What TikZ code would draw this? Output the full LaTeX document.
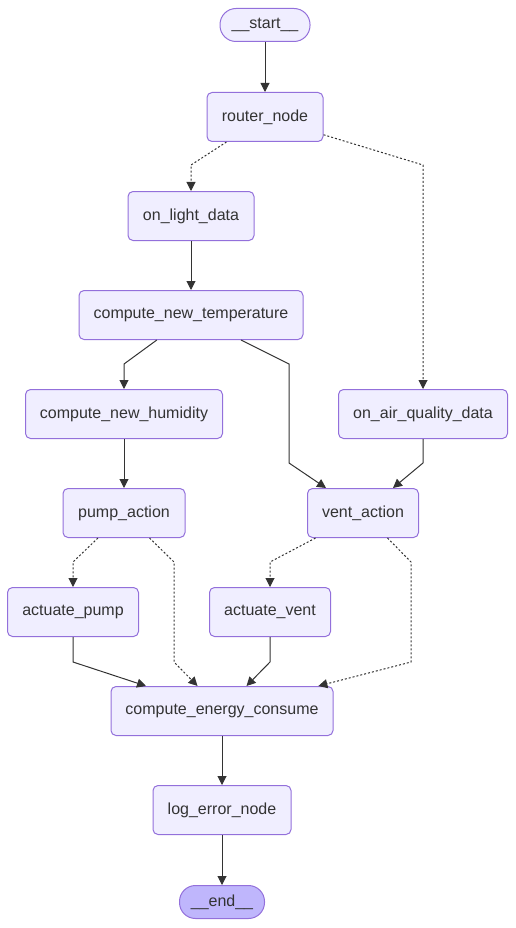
\documentclass[tikz,border=0pt]{standalone}
\usepackage{fontspec}
\setmainfont{Liberation Sans}
\usetikzlibrary{arrows.meta, positioning}

\definecolor{nodefill}{HTML}{F0EEFF}
\definecolor{nodeline}{HTML}{9370DB}
\definecolor{endfill}{HTML}{BFB6FC}
\definecolor{edgeline}{HTML}{333333}

\begin{document}
\begin{tikzpicture}[
        x=1pt, y=-1pt,
        box/.style={rectangle, draw=nodeline, fill=nodefill, line width=1pt, rounded corners=5pt, minimum height=49pt, inner sep=0pt, align=center, text=edgeline, font=\fontsize{16}{19}\selectfont},
        term/.style={box, rounded corners=16pt, minimum height=33pt},
        arrow/.style={-{Triangle[length=9pt, width=9pt]}, line width=1pt, edgeline},
        darrow/.style={arrow, dash pattern=on 2pt off 2pt}
    ]
        \useasboundingbox (0,0) rectangle (516,928);

        % Nodes
        \node[term, minimum width=90pt] (start) at (265,25) {\_\_start\_\_};
        \node[box, minimum width=116pt] (router) at (265,117) {router\_node};
        \node[box, minimum width=126pt] (light) at (191,216) {on\_light\_data};
        \node[box, minimum width=224pt] (temp) at (191,315) {compute\_new\_temperature};
        \node[box, minimum width=197pt] (humid) at (124,414) {compute\_new\_humidity};
        \node[box, minimum width=169pt] (air) at (423,414) {on\_air\_quality\_data};
        \node[box, minimum width=122pt] (pump) at (124,513) {pump\_action};
        \node[box, minimum width=111pt] (vent) at (363,513) {vent\_action};
        \node[box, minimum width=131pt] (actpump) at (73,612) {actuate\_pump};
        \node[box, minimum width=121pt] (actvent) at (270,612) {actuate\_vent};
        \node[box, minimum width=222pt] (energy) at (222,711) {compute\_energy\_consume};
        \node[box, minimum width=138pt] (logerr) at (222,810) {log\_error\_node};
        \node[term, minimum width=85pt, fill=endfill] (finish) at (222,902) {\_\_end\_\_};

        % Arrows
        \draw[arrow] (start) -- (router);
        \draw[darrow] (router) -- (191,165) -- (light);
        \draw[darrow] (router) -- (423,165) -- (air);
        \draw[arrow] (light) -- (temp);
        \draw[arrow] (temp) -- (124,364) -- (humid);
        \draw[arrow] (temp) -- (289,364) -- (289,463) -- (vent);
        \draw[arrow] (humid) -- (pump);
        \draw[arrow] (air) -- (423,463) -- (vent);
        \draw[darrow] (pump) -- (73,562) -- (actpump);
        \draw[darrow] (pump) -- (174,562) -- (174,662) -- (energy);
        \draw[darrow] (vent) -- (270,562) -- (actvent);
        \draw[darrow] (vent) -- (411,562) -- (411,662) -- (energy);
        \draw[arrow] (actpump) -- (73,662) -- (energy);
        \draw[arrow] (actvent) -- (270,662) -- (energy);
        \draw[arrow] (energy) -- (logerr);
        \draw[arrow] (logerr) -- (finish);
    \end{tikzpicture}
\end{document}
